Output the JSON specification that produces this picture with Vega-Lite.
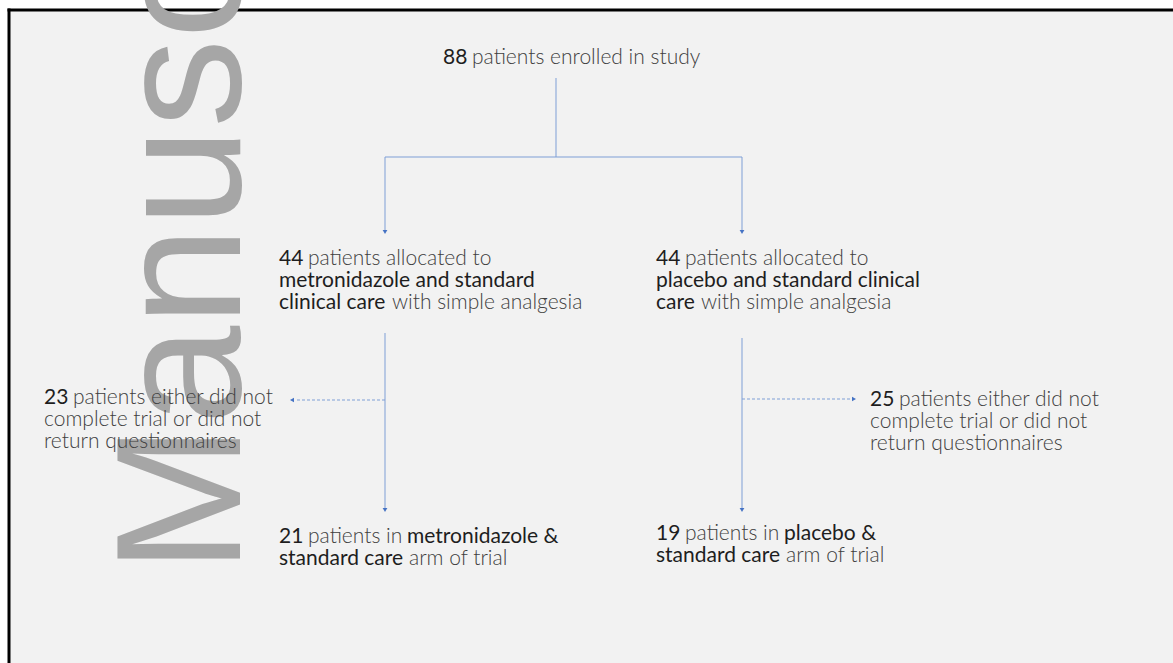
{
  "$schema": "https://vega.github.io/schema/vega-lite/v6.json",
  "width": 1173,
  "height": 663,
  "autosize": {"type": "none"},
  "padding": 0,
  "background": "white",
  "view": {"stroke": null},
  "config": {"text": {"font": "Lato"}},
  "datasets": {
    "panel": [{"x": 9, "y": 10, "x2": 1173, "y2": 663}],
    "frame": [
      {"x": 9, "y": 8.5, "x2": 9, "y2": 663},
      {"x": 7.5, "y": 10, "x2": 1173, "y2": 10}
    ],
    "mark": [{"x": 240, "y": 573, "t": "Manuscript"}],
    "links": [
      {"x": 556, "y": 78, "x2": 556, "y2": 157, "k": "solid"},
      {"x": 385, "y": 157, "x2": 742, "y2": 157, "k": "solid"},
      {"x": 385, "y": 157, "x2": 385, "y2": 230, "k": "solid"},
      {"x": 742, "y": 157, "x2": 742, "y2": 230, "k": "solid"},
      {"x": 385, "y": 333, "x2": 385, "y2": 508, "k": "solid"},
      {"x": 742, "y": 338, "x2": 742, "y2": 508, "k": "solid"},
      {"x": 385, "y": 400, "x2": 295, "y2": 400, "k": "dashed"},
      {"x": 742, "y": 399, "x2": 851, "y2": 399, "k": "dashed"}
    ],
    "heads": [
      {"x": 385, "y": 232, "d": "down"},
      {"x": 742, "y": 232, "d": "down"},
      {"x": 385, "y": 510, "d": "down"},
      {"x": 742, "y": 510, "d": "down"},
      {"x": 292, "y": 400, "d": "left"},
      {"x": 854, "y": 399, "d": "right"}
    ],
    "labels": [
      {"x": 443, "y": 64, "t": "88", "s": "em"},
      {"x": 472, "y": 64, "t": "patients enrolled in study", "s": "lt"},
      {"x": 279, "y": 265, "t": "44", "s": "em"},
      {"x": 308, "y": 265, "t": "patients allocated to", "s": "lt"},
      {"x": 279, "y": 287, "t": "metronidazole and standard", "s": "em"},
      {"x": 279, "y": 309, "t": "clinical care", "s": "em"},
      {"x": 392, "y": 309, "t": "with simple analgesia", "s": "lt"},
      {"x": 656, "y": 265, "t": "44", "s": "em"},
      {"x": 685, "y": 265, "t": "patients allocated to", "s": "lt"},
      {"x": 656, "y": 287, "t": "placebo and standard clinical", "s": "em"},
      {"x": 656, "y": 309, "t": "care", "s": "em"},
      {"x": 701, "y": 309, "t": "with simple analgesia", "s": "lt"},
      {"x": 44, "y": 404, "t": "23", "s": "em"},
      {"x": 73, "y": 404, "t": "patients either did not", "s": "lt"},
      {"x": 44, "y": 426, "t": "complete trial or did not", "s": "lt"},
      {"x": 44, "y": 448, "t": "return questionnaires", "s": "lt"},
      {"x": 870, "y": 406, "t": "25", "s": "em"},
      {"x": 899, "y": 406, "t": "patients either did not", "s": "lt"},
      {"x": 870, "y": 428, "t": "complete trial or did not", "s": "lt"},
      {"x": 870, "y": 450, "t": "return questionnaires", "s": "lt"},
      {"x": 279, "y": 543, "t": "21", "s": "em"},
      {"x": 308, "y": 543, "t": "patients in", "s": "lt"},
      {"x": 407, "y": 543, "t": "metronidazole &", "s": "em"},
      {"x": 279, "y": 565, "t": "standard care", "s": "em"},
      {"x": 409, "y": 565, "t": "arm of trial", "s": "lt"},
      {"x": 656, "y": 540, "t": "19", "s": "em"},
      {"x": 685, "y": 540, "t": "patients in", "s": "lt"},
      {"x": 784, "y": 540, "t": "placebo &", "s": "em"},
      {"x": 656, "y": 562, "t": "standard care", "s": "em"},
      {"x": 786, "y": 562, "t": "arm of trial", "s": "lt"}
    ]
  },
  "encoding": {
    "x": {"field": "x", "type": "quantitative", "scale": {"domain": [0, 1173], "nice": false, "zero": false}, "axis": null},
    "y": {"field": "y", "type": "quantitative", "scale": {"domain": [0, 663], "nice": false, "zero": false, "reverse": true}, "axis": null}
  },
  "layer": [
    {
      "data": {"name": "panel"},
      "mark": {"type": "rect", "fill": "#f2f2f2"},
      "encoding": {"x2": {"field": "x2"}, "y2": {"field": "y2"}}
    },
    {
      "data": {"name": "frame"},
      "mark": {"type": "rule", "stroke": "#000000", "strokeWidth": 3},
      "encoding": {"x2": {"field": "x2"}, "y2": {"field": "y2"}}
    },
    {
      "data": {"name": "mark"},
      "mark": {"type": "text", "font": "Liberation Sans", "fontSize": 178, "angle": 270, "align": "left", "baseline": "alphabetic", "color": "#a6a6a6"},
      "encoding": {"text": {"field": "t"}}
    },
    {
      "data": {"name": "links"},
      "mark": {"type": "rule", "stroke": "#7f9fd6", "strokeWidth": 1},
      "encoding": {
        "x2": {"field": "x2"},
        "y2": {"field": "y2"},
        "strokeDash": {"field": "k", "type": "nominal", "scale": {"domain": ["solid", "dashed"], "range": [[1, 0], [3, 2]]}, "legend": null}
      }
    },
    {
      "data": {"name": "heads"},
      "mark": {"type": "point", "filled": true, "color": "#4472c4", "size": 22, "opacity": 1},
      "encoding": {
        "shape": {"field": "d", "type": "nominal", "scale": {"domain": ["down", "left", "right"], "range": ["triangle-down", "triangle-left", "triangle-right"]}, "legend": null}
      }
    },
    {
      "data": {"name": "labels"},
      "transform": [{"filter": "datum.s === 'lt'"}],
      "mark": {"type": "text", "align": "left", "baseline": "alphabetic", "fontSize": 21, "fontWeight": 300, "color": "#404040"},
      "encoding": {"text": {"field": "t"}}
    },
    {
      "data": {"name": "labels"},
      "transform": [{"filter": "datum.s === 'em'"}],
      "mark": {"type": "text", "align": "left", "baseline": "alphabetic", "fontSize": 21, "fontWeight": 400, "color": "#1e1e1e"},
      "encoding": {"text": {"field": "t"}}
    }
  ]
}
